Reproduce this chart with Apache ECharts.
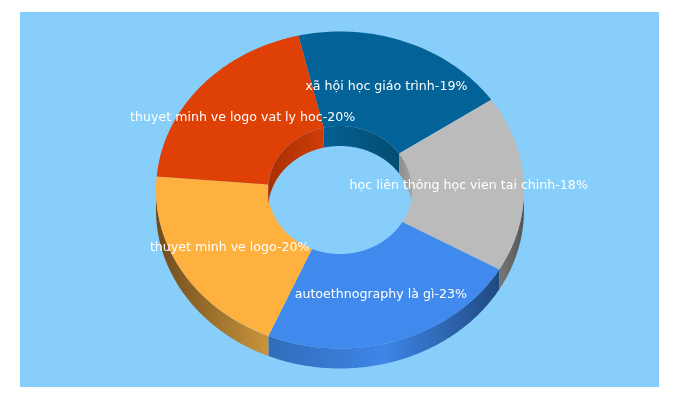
<!DOCTYPE html>
<html>
<head>
<meta charset="utf-8">
<style>html,body{margin:0;padding:0;background:#fff}#c{width:680px;height:400px}</style>
<script src="https://cdn.jsdelivr.net/npm/echarts@6/dist/echarts.min.js"></script>
</head>
<body>
<div id="c"></div>
<script>
const categories = ['xã hội học giáo trình','học liên thông học vien tai chinh','autoethnography là gì','thuyet minh ve logo','thuyet minh ve logo vat ly hoc'];
const values = [19, 18, 23, 20, 20];
const topColors = ['#036297','#BCBBBC','#408AEE','#FFB13F','#DF4006'];
const outerWall = [
  ['#036297','#036297'],
  ['#787878','#555555'],
  ['#2F6DB8','#3F85E8','#1F4A80'],
  ['#6F4B1C','#C9943C'],
  ['#B03505','#B03505']
];
const innerWall = [
  ['#046094','#034D70'],
  ['#8C8C8C','#A5A5A5'],
  ['#2F6DB8','#2F6DB8'],
  ['#A83004','#A83004'],
  ['#A83004','#D03C08']
];

const START = -13.1, CX = 340, CY = 190, RX = 184, RY = 158.5, IRX = 72, IRY = 64, DEPTH = 20, LABEL_R = 0.70;
const total = values.reduce((a, b) => a + b, 0);
const starts = [];
values.reduce((acc, v, i) => { starts[i] = acc; return acc + v / total * 360; }, START);

const pt = (deg, rx, ry, dy) => {
  const t = deg * Math.PI / 180;
  return [CX + rx * Math.sin(t), CY + dy - ry * Math.cos(t)];
};
const arc = (a, b, rx, ry, dy) => {
  const n = Math.max(2, Math.ceil(Math.abs(b - a) * 2));
  const out = [];
  for (let i = 0; i <= n; i++) out.push(pt(a + (b - a) * i / n, rx, ry, dy));
  return out;
};
const band = (a, b, rx, ry, dy0, rx2, ry2, dy1) => arc(a, b, rx, ry, dy0).concat(arc(b, a, rx2, ry2, dy1));
const grad = (pts, stops) => {
  const xs = pts.map(p => p[0]);
  return {
    type: 'linear', global: true,
    x: Math.min.apply(null, xs), y: 0, x2: Math.max.apply(null, xs), y2: 0,
    colorStops: stops.map((c, i) => ({ offset: i / (stops.length - 1), color: c }))
  };
};
const clip = (a, b, lo, hi) => { const s = Math.max(a, lo), e = Math.min(b, hi); return s < e ? [s, e] : null; };

function renderSlice(params, api) {
  const i = params.dataIndex;
  const a = starts[i], b = a + api.value(0) / total * 360;
  const children = [];
  const add = (points, fill) => children.push({ type: 'polygon', shape: { points }, style: { fill, stroke: null } });
  // outer side, front half only
  const o = clip(a, b, 90, 270);
  if (o) { const p = band(o[0], o[1], RX, RY, 0, RX, RY, DEPTH); add(p, grad(p, outerWall[i])); }
  // inner wall, back half only
  [[-90, 90], [270, 450]].forEach(r => {
    const c = clip(a, b, r[0], r[1]);
    if (c) { const p = band(c[0], c[1], IRX, IRY, 0, IRX, IRY, DEPTH); add(p, grad(p, innerWall[i])); }
  });
  // top face
  add(band(a, b, RX, RY, 0, IRX, IRY, 0), topColors[i]);
  return { type: 'group', children };
}

function renderLabel(params, api) {
  const i = params.dataIndex;
  const v = api.value(0);
  const p = pt(starts[i] + v / total * 180, RX * LABEL_R, RY * LABEL_R, 0);
  return {
    type: 'text', x: p[0], y: p[1],
    style: {
      text: categories[i] + '-' + v + '%',
      fill: '#fff', font: '12.6px "DejaVu Sans"', textAlign: 'center', textVerticalAlign: 'middle'
    }
  };
}

const chart = echarts.init(document.getElementById('c'), null, { renderer: 'canvas' });
chart.setOption({
  animation: false,
  backgroundColor: '#fff',
  graphic: [{ type: 'rect', z: -10, silent: true, shape: { x: 20, y: 12, width: 639, height: 375 }, style: { fill: '#87CEFA' } }],
  series: [
    { type: 'custom', coordinateSystem: 'none', z: 2, silent: true, renderItem: renderSlice, data: values.map(v => [v]) },
    { type: 'custom', coordinateSystem: 'none', z: 3, silent: true, renderItem: renderLabel, data: values.map(v => [v]) }
  ]
});
</script>
</body>
</html>
